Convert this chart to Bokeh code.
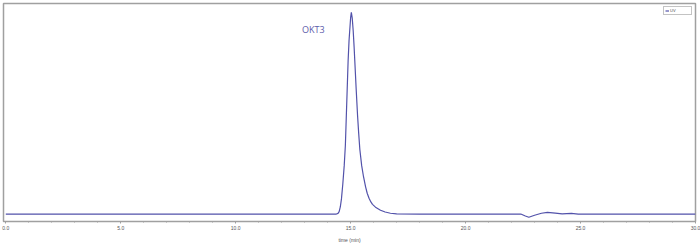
from bokeh.plotting import figure
from bokeh.models import (Range1d, SingleIntervalTicker, PrintfTickFormatter,
                          Label, Legend, LegendItem)
from bokeh.embed import file_html
from bokeh.resources import INLINE

# ---- data ----
time_min = [0.0, 5.0, 10.0, 14.0, 14.38, 14.45, 14.50, 14.55, 14.60, 14.66,
            14.72, 14.77, 14.81, 14.85, 14.89, 14.93, 14.96, 15.00, 15.03,
            15.07, 15.11, 15.15, 15.18, 15.24, 15.30, 15.35, 15.40, 15.48,
            15.56, 15.65, 15.72, 15.80, 15.88, 15.95, 16.08, 16.30, 16.50,
            16.73, 17.00, 18.0, 20.0, 22.0, 22.4, 22.6, 22.75, 23.0, 23.3,
            23.56, 23.9, 24.2, 24.6, 24.9, 25.5, 27.0, 30.0]
uv_signal = [0.0, 0.0, 0.0, 0.0, 0.0, 0.3, 1.2, 3.5, 7.5, 15.0,
             24.0, 34.0, 48.0, 62.0, 76.0, 86.0, 91.0, 97.5, 100.0,
             97.0, 91.0, 83.0, 76.0, 62.0, 49.0, 40.0, 32.0, 24.0,
             18.5, 13.5, 10.3, 7.8, 6.0, 4.8, 3.4, 1.9, 1.0,
             0.4, 0.1, 0.0, 0.0, 0.0, 0.0, -1.0, -1.6, -0.6, 0.4,
             0.8, 0.5, 0.1, 0.3, 0.0, 0.0, 0.0, 0.0]
peak_name = "OKT3"
peak_label_pos = (13.38, 91.5)
series_name = "UV"
x_label = "time (min)"

LINE = "#5252aa"
GRAY = "#a0a0a0"

p = figure(width=700, height=245, output_backend="svg", toolbar_location=None,
           x_range=Range1d(-0.1, 30.0), y_range=Range1d(-3.7, 104.4))
p.min_border_left = 3
p.min_border_right = 5
p.min_border_top = 3
p.min_border_bottom = 23
p.background_fill_color = "white"
p.border_fill_color = "white"
p.outline_line_color = GRAY
p.outline_line_width = 1.5
p.grid.visible = False
p.yaxis.visible = False

xa = p.xaxis[0]
xa.ticker = SingleIntervalTicker(interval=5, num_minor_ticks=5)
xa.formatter = PrintfTickFormatter(format="%.1f")
xa.axis_line_color = GRAY
xa.major_tick_line_color = GRAY
xa.minor_tick_line_color = GRAY
xa.major_tick_out = 2
xa.major_tick_in = 0
xa.minor_tick_out = 1
xa.minor_tick_in = 0
xa.major_label_text_font_size = "5px"
xa.major_label_text_color = "#555555"
xa.major_label_standoff = 2
xa.axis_label = x_label
xa.axis_label_text_font_size = "5px"
xa.axis_label_text_font_style = "normal"
xa.axis_label_text_color = "#555555"
xa.axis_label_standoff = 4

r = p.line(time_min, uv_signal, line_color=LINE, line_width=1.2)

p.add_layout(Label(x=peak_label_pos[0], y=peak_label_pos[1], text=peak_name,
                   text_align="center", text_baseline="middle",
                   text_font="Open Sans", text_font_size="9px",
                   text_color="#5c5cab"))

legend = Legend(items=[LegendItem(label=series_name, renderers=[r])],
                location="top_right", label_text_font_size="4px",
                label_height=3, glyph_height=3, glyph_width=4,
                padding=1, margin=3, spacing=0, label_standoff=1,
                border_line_color="#888888", border_line_width=1,
                label_text_color="#555555")
p.add_layout(legend)

open("out.html", "w").write(file_html(p, INLINE))
